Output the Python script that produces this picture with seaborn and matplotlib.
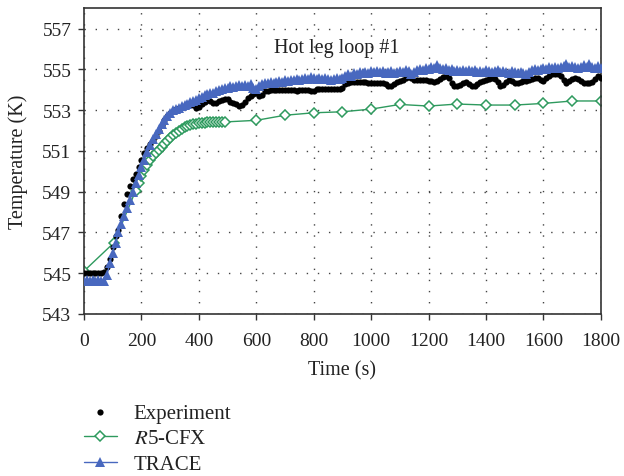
"""
Hot leg loop #1 temperature: experiment vs R5-CFX vs TRACE.
"""
import matplotlib
matplotlib.use('Agg')
import matplotlib.pyplot as plt
import seaborn as sns
import numpy as np

# Experiment, sampled every 10 s
exp_time = np.arange(0, 1810, 10)
exp_temp = [
    545.0, 545.0, 545.0, 545.0, 545.0, 545.0, 545.0, 545.05, 545.3, 545.7,
    546.3, 546.8, 547.1, 547.8, 548.4, 548.9, 549.3, 549.6, 549.85, 550.2,
    550.55, 550.9, 551.15, 551.35, 551.55, 551.75, 552.0, 552.25, 552.5, 552.7,
    552.85, 552.95, 553.05, 553.1, 553.15, 553.2, 553.25, 553.3, 553.25, 553.1,
    553.15, 553.3, 553.4, 553.5, 553.45, 553.35, 553.35, 553.45, 553.5, 553.55,
    553.55, 553.4, 553.35, 553.3, 553.2, 553.25, 553.4, 553.6, 553.7, 553.8,
    553.85, 553.7, 553.75, 553.95, 553.95, 554.0, 554.0, 554.0, 554.0, 554.0,
    554.0, 554.0, 554.0, 554.0, 553.95, 554.0, 554.0, 554.0, 554.0, 553.95,
    553.95, 554.05, 554.05, 554.05, 554.05, 554.05, 554.05, 554.05, 554.05, 554.05,
    554.1, 554.3, 554.35, 554.4, 554.4, 554.4, 554.4, 554.4, 554.4, 554.35,
    554.35, 554.35, 554.35, 554.35, 554.35, 554.3, 554.2, 554.2, 554.3, 554.4,
    554.45, 554.5, 554.6, 554.7, 554.6, 554.5, 554.5, 554.5, 554.5, 554.5,
    554.45, 554.45, 554.4, 554.45, 554.55, 554.65, 554.7, 554.6, 554.35, 554.2,
    554.2, 554.25, 554.35, 554.4, 554.3, 554.2, 554.2, 554.3, 554.4, 554.45,
    554.5, 554.55, 554.6, 554.55, 554.4, 554.2, 554.25, 554.4, 554.5, 554.45,
    554.35, 554.35, 554.4, 554.45, 554.45, 554.5, 554.55, 554.6, 554.6, 554.5,
    554.45, 554.6, 554.7, 554.75, 554.75, 554.75, 554.7, 554.5, 554.35, 554.45,
    554.55, 554.6, 554.55, 554.45, 554.35, 554.35, 554.35, 554.4, 554.55, 554.7,
    554.6,
]

# R5-CFX
cfx_time = [0, 105, 180, 190, 200, 210, 220, 230, 240, 250, 260, 270, 280, 290,
            300, 310, 320, 330, 340, 350, 360, 370, 380, 390, 400, 410, 420,
            430, 440, 450, 460, 470, 480, 490, 600, 700, 800, 900, 1000, 1100,
            1200, 1300, 1400, 1500, 1600, 1700, 1800]
cfx_temp = [545.1, 546.5, 549.05, 549.4, 549.75, 550.05, 550.3, 550.55, 550.75,
            550.9, 551.05, 551.2, 551.35, 551.5, 551.65, 551.78, 551.9, 552.0,
            552.08, 552.15, 552.22, 552.27, 552.3, 552.33, 552.36, 552.38,
            552.39, 552.4, 552.4, 552.4, 552.41, 552.41, 552.42, 552.42, 552.5,
            552.75, 552.87, 552.92, 553.05, 553.28, 553.2, 553.3, 553.25,
            553.25, 553.33, 553.45, 553.45]

# TRACE, every 10 s
trace_time = np.arange(0, 1810, 10)
trace_temp = [
    544.6, 544.65, 544.6, 544.65, 544.6, 544.65, 544.6, 544.6, 544.9, 545.5,
    546.0, 546.5, 547.0, 547.4, 547.8, 548.2, 548.6, 549.0, 549.4, 549.8,
    550.2, 550.55, 550.95, 551.3, 551.6, 551.85, 552.05, 552.3, 552.5, 552.7,
    552.85, 553.0, 553.05, 553.1, 553.2, 553.25, 553.3, 553.4, 553.45, 553.5,
    553.6, 553.65, 553.75, 553.8, 553.85, 553.85, 553.95, 554.0, 554.05, 554.1,
    554.1, 554.2, 554.15, 554.2, 554.25, 554.2, 554.25, 554.2, 554.3, 554.1,
    554.05, 554.2, 554.3, 554.35, 554.35, 554.4, 554.35, 554.4, 554.45, 554.4,
    554.5, 554.45, 554.5, 554.5, 554.55, 554.5, 554.55, 554.6, 554.55, 554.65,
    554.6, 554.55, 554.6, 554.55, 554.6, 554.55, 554.5, 554.55, 554.6, 554.55,
    554.6, 554.7, 554.75, 554.7, 554.8, 554.75, 554.85, 554.8, 554.85, 554.8,
    554.9, 554.85, 554.9, 554.85, 554.9, 554.8, 554.85, 554.9, 554.8, 554.85,
    554.9, 554.85, 554.95, 554.9, 554.75, 554.85, 554.95, 555.0, 554.95, 555.05,
    555.0, 555.1, 555.05, 555.2, 555.05, 555.0, 555.05, 554.95, 555.0, 554.9,
    554.95, 554.9, 554.95, 554.9, 554.95, 554.9, 554.95, 554.85, 554.9, 554.85,
    554.95, 554.9, 554.85, 554.9, 554.95, 554.85, 554.9, 554.85, 554.8, 554.9,
    554.85, 554.8, 554.85, 554.8, 554.75, 554.85, 554.95, 555.0, 554.95, 555.0,
    555.05, 555.0, 555.1, 555.05, 555.1, 555.05, 555.1, 555.15, 555.25, 555.1,
    555.15, 555.1, 555.05, 555.1, 555.2, 555.1, 555.25, 555.1, 555.05, 555.15,
    555.05,
]

x_ticks = np.arange(0, 2000, 200)
y_ticks = np.arange(543, 559, 2)

green = '#2e9a5e'
blue = '#4868bf'
text_color = '#222222'

sns.set_theme(style='ticks')
plt.rcParams['font.family'] = ['Liberation Serif', 'DejaVu Serif']
plt.rcParams['mathtext.fontset'] = 'stix'

fig = plt.figure(figsize=(6.24, 4.77), dpi=100)
ax = fig.add_axes([0.1346, 0.340, 0.8284, 0.6405])

sns.scatterplot(x=exp_time, y=exp_temp, ax=ax, color='black', s=20,
                linewidth=0, label='Experiment', zorder=3)
sns.lineplot(x=cfx_time, y=cfx_temp, ax=ax, color=green, linewidth=1.0,
             marker='D', markersize=5, markerfacecolor='white',
             markeredgecolor=green, markeredgewidth=1.1,
             label='$\\mathit{R}$5-CFX', zorder=2)
sns.lineplot(x=trace_time, y=trace_temp, ax=ax, color=blue, linewidth=1.0,
             marker='^', markersize=6.5, markeredgewidth=0,
             label='TRACE', zorder=4)

ax.set_xlim(0, 1800)
ax.set_ylim(543, 558)
ax.set_xticks(x_ticks)
ax.set_yticks(y_ticks)
ax.tick_params(direction='out', length=4, width=1, colors='#333333',
               labelsize=14, labelcolor=text_color)
ax.tick_params(axis='x', pad=9)
ax.tick_params(axis='y', pad=5)
for sp in ax.spines.values():
    sp.set_color('#333333')
    sp.set_linewidth(1.2)
ax.grid(True, color='#444444', linestyle=(0, (1, 7)), linewidth=1.0)
ax.set_axisbelow(True)

ax.set_xlabel('Time (s)', fontsize=14.5, color=text_color, labelpad=8)
ax.set_ylabel('Temperature (K)', fontsize=14.5, color=text_color, labelpad=10)
ax.text(881, 556.1, 'Hot leg loop #1', ha='center', va='center',
        fontsize=14.5, color=text_color)

handles, labels = ax.get_legend_handles_labels()
ax.get_legend().remove()
fig.legend(handles, labels, loc='upper left', bbox_to_anchor=(0.134, 0.153),
           frameon=False, fontsize=15, handlelength=1.6, handletextpad=0.8,
           labelspacing=0.3, borderpad=0, borderaxespad=0, labelcolor=text_color)

fig.savefig('out.png', dpi=100)
plt.close(fig)
